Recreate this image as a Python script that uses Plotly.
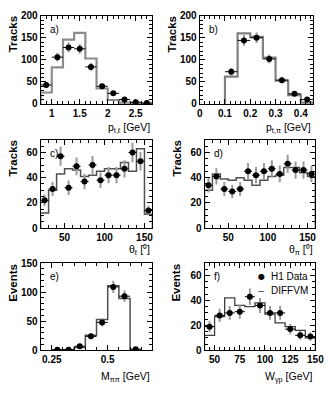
import plotly.graph_objects as go

# ---------------- data ----------------
# a) p_t,l
a_x = [0.9, 1.1, 1.3, 1.5, 1.7, 1.9, 2.1, 2.3, 2.5, 2.7]
a_y = [43, 106, 128, 125, 84, 40, 24, 10, 4, 2]
a_err = [7, 10, 11, 11, 9, 6, 5, 3, 2, 1.5]
a_edges = [0.8, 1.0, 1.2, 1.4, 1.6, 1.8, 2.0, 2.2, 2.4, 2.6, 2.8]
a_mc = [26, 83, 146, 161, 103, 35, 9, 3, 2, 1]

# b) p_t,pi
b_x = [0.125, 0.175, 0.225, 0.275, 0.325, 0.375, 0.425]
b_y = [73, 144, 150, 102, 54, 23, 10]
b_err = [9, 12, 12, 10, 7, 5, 3]
b_edges = [0.1, 0.15, 0.2, 0.25, 0.3, 0.35, 0.4, 0.45]
b_mc = [62, 160, 152, 105, 53, 20, 3]

# c) theta_l
c_x = [25, 35, 45, 55, 65, 75, 85, 95, 105, 115, 125, 135, 145, 155]
c_y = [22, 31, 57, 32, 49, 37, 50, 38, 42, 42, 47, 60, 53, 14]
c_err = [4.7, 5.6, 7.5, 5.7, 7, 6.1, 7.1, 6.2, 6.5, 6.5, 6.9, 7.7, 7.3, 3.7]
c_edges = [20, 30, 40, 50, 60, 70, 80, 90, 100, 110, 120, 130, 140, 150, 160]
c_mc = [12, 30, 43, 47, 46, 41, 42, 45, 47, 47, 52, 45, 63, 11]

# d) theta_pi
d_x = [25, 35, 45, 55, 65, 75, 85, 95, 105, 115, 125, 135, 145, 155]
d_y = [34, 41, 31, 29, 31, 45, 42, 45, 47, 43, 51, 46, 46, 43]
d_err = [5.8, 6.4, 5.6, 5.4, 5.6, 6.7, 6.5, 6.7, 6.9, 6.6, 7.1, 6.8, 6.8, 6.6]
d_edges = [20, 30, 40, 50, 60, 70, 80, 90, 100, 110, 120, 130, 140, 150, 160]
d_mc = [30, 43, 39, 38, 40, 38, 34, 38, 41, 42, 48, 48, 44, 41]

# e) M_pipi
e_x = [0.275, 0.325, 0.375, 0.425, 0.475, 0.525, 0.575, 0.625]
e_y = [1, 1, 7, 24, 48, 109, 93, 2]
e_err = [1, 1, 2.6, 4.9, 6.9, 10.4, 9.6, 1.4]
e_edges = [0.25, 0.3, 0.35, 0.4, 0.45, 0.5, 0.55, 0.6, 0.65]
e_mc = [0, 1, 5, 26, 53, 111, 89, 0]

# f) W_gp
f_x = [45, 55, 65, 75, 85, 95, 105, 115, 125, 135, 145]
f_y = [19, 28, 30, 31, 43, 36, 30, 30, 17, 12, 11]
f_err = [4.4, 5.3, 5.5, 5.6, 6.6, 6, 5.5, 5.5, 4.1, 3.5, 3.3]
f_edges = [40, 50, 60, 70, 80, 90, 100, 110, 120, 130, 140, 150]
f_mc = [12, 27, 42, 36, 35, 38, 29, 22, 19, 16, 10]

W, H = 335, 399
FONT = "Liberation Sans, Arial, Helvetica, sans-serif"

panels = [
    dict(x=a_x, y=a_y, err=a_err, edges=a_edges, mc=a_mc, label="a)",
         xr=[0.8, 2.8], yr=[0, 200], xd=0.5, xm=0.1, yd=50, ym=10,
         xt="p<sub>t,ℓ</sub> [GeV]", yt="Tracks",
         px=(39, 155), py=(10, 101), mcc="#8c8c8c", mcw=2.2),
    dict(x=b_x, y=b_y, err=b_err, edges=b_edges, mc=b_mc, label="b)",
         xr=[0, 0.45], yr=[0, 200], xd=0.1, xm=0.02, yd=50, ym=10,
         xt="p<sub>t,π</sub> [GeV]", yt="Tracks",
         px=(204, 322), py=(10, 101), mcc="#808080", mcw=2.2),
    dict(x=c_x, y=c_y, err=c_err, edges=c_edges, mc=c_mc, label="c)",
         xr=[20, 160], yr=[0, 70], xd=50, xm=10, yd=20, ym=5,
         xt="θ<sub>ℓ</sub> [⁰]", yt="Tracks",
         px=(39, 155), py=(138, 229), mcc="#505050", mcw=1.5),
    dict(x=d_x, y=d_y, err=d_err, edges=d_edges, mc=d_mc, label="d)",
         xr=[20, 160], yr=[0, 70], xd=50, xm=10, yd=20, ym=5,
         xt="θ<sub>π</sub> [⁰]", yt="Tracks",
         px=(209, 324), py=(138, 229), mcc="#505050", mcw=1.5),
    dict(x=e_x, y=e_y, err=e_err, edges=e_edges, mc=e_mc, label="e)",
         xr=[0.2, 0.7], yr=[0, 150], xd=0.25, xm=0.05, yd=50, ym=10,
         xt="M<sub>ππ</sub> [GeV]", yt="Events",
         px=(39, 155), py=(265, 355), mcc="#505050", mcw=1.5),
    dict(x=f_x, y=f_y, err=f_err, edges=f_edges, mc=f_mc, label="f)",
         xr=[40, 150], yr=[0, 70], xd=25, xm=5, yd=20, ym=5,
         xt="W<sub>γp</sub> [GeV]", yt="Events",
         px=(209, 324), py=(265, 355), mcc="#404040", mcw=1.3),
]

xtitle_y = [126, 126, 252, 252, 382, 382]

fig = go.Figure()
annotations = []
layout = dict(width=W, height=H, margin=dict(l=0, r=0, t=0, b=0),
              paper_bgcolor="white", plot_bgcolor="white", showlegend=False,
              font=dict(family=FONT, color="black"))

for i, p in enumerate(panels):
    n = i + 1
    xa = "x" if n == 1 else f"x{n}"
    ya = "y" if n == 1 else f"y{n}"
    xkey = "xaxis" if n == 1 else f"xaxis{n}"
    ykey = "yaxis" if n == 1 else f"yaxis{n}"
    x0, x1 = p["px"]
    yt_, yb_ = p["py"]
    dx = [x0 / W, x1 / W]
    dy = [1 - yb_ / H, 1 - yt_ / H]

    # MC histogram (step line)
    edges, mc = p["edges"], p["mc"]
    hx = [edges[0]] + list(edges) + [edges[-1]]
    hy = [0] + list(mc) + [mc[-1], 0]
    fig.add_trace(go.Scatter(x=hx, y=hy, mode="lines", line_shape="hv",
                             line=dict(color=p["mcc"], width=p["mcw"]),
                             xaxis=xa, yaxis=ya, cliponaxis=True, hoverinfo="skip"))
    # data points
    halfw = (edges[1] - edges[0]) / 2
    fig.add_trace(go.Scatter(
        x=p["x"], y=p["y"], mode="markers",
        marker=dict(color="black", size=6, symbol="circle"),
        error_y=dict(type="data", array=p["err"], color="#9a9a9a", thickness=2, width=0),
        error_x=dict(type="constant", value=halfw, color="black", thickness=1, width=0),
        xaxis=xa, yaxis=ya, cliponaxis=True))

    common = dict(showline=True, linecolor="black", linewidth=1, mirror="allticks",
                  ticks="inside", ticklen=5, tickwidth=1, tickcolor="black",
                  showgrid=False, zeroline=False, fixedrange=True,
                  tickfont=dict(family=FONT, size=10, color="black", weight="bold"))
    layout[xkey] = dict(domain=dx, anchor=ya, range=p["xr"], dtick=p["xd"], tick0=0,
                        minor=dict(dtick=p["xm"], ticks="inside", ticklen=3,
                                   tickcolor="black", showgrid=False),
                        **common)
    layout[ykey] = dict(domain=dy, anchor=xa, range=p["yr"], dtick=p["yd"], tick0=0,
                        minor=dict(dtick=p["ym"], ticks="inside", ticklen=3,
                                   tickcolor="black", showgrid=False),
                        **common)

    # x-axis title (right aligned below)
    annotations.append(dict(text=p["xt"], xref="paper", yref="paper",
                            x=x1 / W, y=1 - xtitle_y[i] / H, xanchor="right", yanchor="middle",
                            showarrow=False, font=dict(family=FONT, size=10.5, color="black")))
    # y-axis title (rotated, top aligned)
    annotations.append(dict(text=p["yt"], xref="paper", yref="paper",
                            x=(x0 - 29) / W, y=1 - (yt_ - 1) / H, xanchor="center", yanchor="top",
                            textangle=-90, showarrow=False,
                            font=dict(family=FONT, size=11.5, color="black", weight="bold")))
    # panel label
    annotations.append(dict(text=p["label"], xref="paper", yref="paper",
                            x=(x0 + 8) / W, y=1 - (yt_ + 14) / H, xanchor="left", yanchor="middle",
                            showarrow=False, font=dict(family=FONT, size=10, color="black")))

# legend for panel f
annotations.append(dict(text="●", xref="paper", yref="paper", x=268 / W, y=1 - 279 / H,
                        xanchor="center", yanchor="middle", showarrow=False,
                        font=dict(family="DejaVu Sans", size=8, color="black")))
annotations.append(dict(text="H1 Data", xref="paper", yref="paper", x=276 / W, y=1 - 279 / H,
                        xanchor="left", yanchor="middle", showarrow=False,
                        font=dict(family=FONT, size=10, color="black")))
annotations.append(dict(text="–", xref="paper", yref="paper", x=268 / W, y=1 - 293 / H,
                        xanchor="center", yanchor="middle", showarrow=False,
                        font=dict(family=FONT, size=11, color="#404040")))
annotations.append(dict(text="DIFFVM", xref="paper", yref="paper", x=276 / W, y=1 - 293 / H,
                        xanchor="left", yanchor="middle", showarrow=False,
                        font=dict(family=FONT, size=10, color="black")))

layout["annotations"] = annotations
fig.update_layout(**layout)
fig.write_html("out.html")
